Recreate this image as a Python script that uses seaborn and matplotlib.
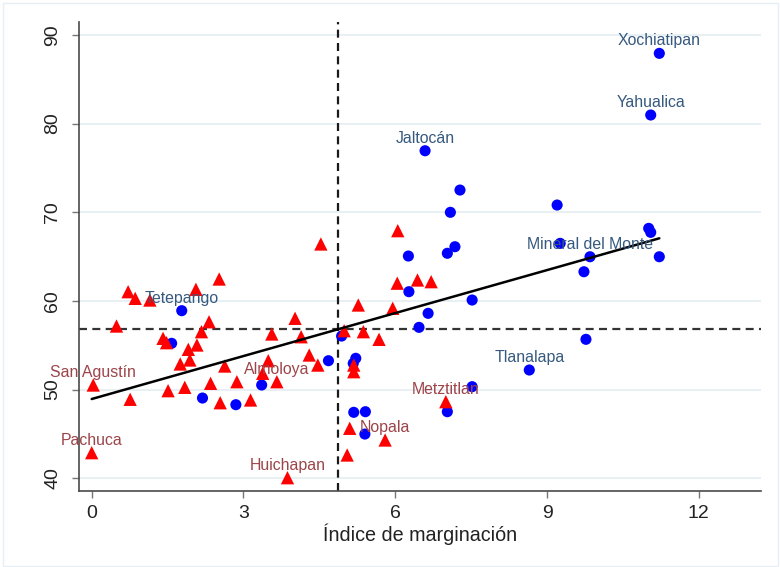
import numpy as np
import pandas as pd
import matplotlib
matplotlib.use("Agg")
import matplotlib.pyplot as plt
import seaborn as sns
from matplotlib.patches import Rectangle

sns.set_theme(style="white")
plt.rcParams["font.family"] = ["Liberation Sans", "DejaVu Sans"]

# ---- data ----
blue_x = [1.58, 1.78, 2.19, 2.85, 3.36, 4.68, 4.94, 5.22, 5.17, 5.18, 5.41, 5.40,
          6.27, 6.47, 6.65, 7.52, 7.52, 7.03, 6.59, 7.28, 7.09, 7.18, 7.03, 6.26,
          8.65, 9.77, 9.20, 9.26, 9.85, 9.73, 11.01, 11.05, 11.22, 11.05, 11.22]
blue_y = [55.22, 58.90, 49.05, 48.30, 50.52, 53.26, 56.04, 53.53, 52.96, 47.44, 47.51, 44.99,
          61.04, 57.02, 58.60, 60.10, 50.33, 47.51, 76.93, 72.50, 69.99, 66.11, 65.37, 65.06,
          52.21, 55.67, 70.81, 66.49, 64.98, 63.29, 68.18, 67.73, 64.98, 80.96, 87.91]
blue_names = ["", "Tetepango", "", "", "", "", "", "", "", "", "", "",
              "", "", "", "", "", "", "Jaltocán", "", "", "", "", "",
              "Tlanalapa", "", "", "", "Mineral del Monte", "", "", "", "", "Yahualica", "Xochiatipan"]

red_x = [0.72, 0.86, 1.15, 0.49, 1.41, 1.48, 2.06, 2.32, 2.17, 2.08, 1.91, 1.94, 1.75, 2.63,
         0.03, 0.76, 1.51, 1.84, 2.35, 2.87, 2.54, 3.14, 0.00, 2.52, 6.04, 6.44, 6.71,
         5.27, 5.95, 4.02, 3.56, 4.14, 4.99, 5.37, 5.68, 3.49, 4.30, 4.47, 3.38, 3.66,
         5.18, 5.18, 5.10, 5.05, 5.80, 7.00, 3.87, 6.05, 4.53]
red_y = [61.04, 60.29, 60.10, 57.17, 55.78, 55.29, 61.31, 57.65, 56.53, 55.03, 54.54, 53.34, 52.89, 52.66,
         50.52, 48.91, 49.88, 50.26, 50.71, 50.89, 48.52, 48.83, 42.89, 62.47, 62.00, 62.36, 62.17,
         59.54, 59.17, 58.04, 56.27, 55.96, 56.64, 56.53, 55.67, 53.26, 53.90, 52.77, 51.84, 50.89,
         52.77, 52.02, 45.64, 42.63, 44.32, 48.64, 40.07, 67.92, 66.42]
red_names = ["", "", "", "", "", "", "", "", "", "", "", "", "", "",
             "San Agustín", "", "", "", "", "", "", "", "Pachuca", "", "", "", "",
             "", "", "", "", "", "", "", "", "", "", "", "", "Almoloya",
             "", "", "", "", "Nopala", "Metztitlan", "Huichapan", "", ""]

fit_intercept = 48.94
fit_slope = 1.615
mean_x = 4.86
mean_y = 56.80

x_ticks = [0, 3, 6, 9, 12]
y_ticks = [40, 50, 60, 70, 80, 90]
x_label = "Índice de marginación"

df_blue = pd.DataFrame({"x": blue_x, "y": blue_y, "name": blue_names})
df_red = pd.DataFrame({"x": red_x, "y": red_y, "name": red_names})

# ---- figure ----
W, H = 780, 567
fig = plt.figure(figsize=(W / 100, H / 100), dpi=100)
fig.patch.set_facecolor("white")
fig.add_artist(Rectangle((2.5 / W, 1.5 / H), 775 / W, 563 / H, transform=fig.transFigure,
                         fill=False, edgecolor="#e8eff4", lw=1.0))

left, right, top, bottom = 79.3, 761.0, 21.7, 491.0
ax = fig.add_axes([left / W, 1 - bottom / H, (right - left) / W, (bottom - top) / H])
ax.set_facecolor("white")

sns.scatterplot(data=df_blue, x="x", y="y", color="#0000ff", marker="o", s=64,
                edgecolor="none", linewidth=0, ax=ax, zorder=3)
sns.scatterplot(data=df_red, x="x", y="y", color="#ff0000", marker="^", s=92,
                edgecolor="none", linewidth=0, ax=ax, zorder=4)

all_x = np.array(blue_x + red_x)
xl = np.array([all_x.min(), all_x.max()])
ax.plot(xl, fit_intercept + fit_slope * xl, color="black", lw=1.8, zorder=5)

ax.axvline(mean_x, color="#1a1a1a", lw=1.6, ls=(0, (3.6, 2.4)), zorder=2)
ax.axhline(mean_y, color="#333333", lw=1.6, ls=(0, (3.6, 2.4)), zorder=2)

for df, col in ((df_blue, "#36597f"), (df_red, "#9c4449")):
    for _, r in df[df["name"] != ""].iterrows():
        ax.annotate(r["name"], (r["x"], r["y"]), xytext=(0, 12.5), textcoords="offset pixels",
                    ha="center", va="center", fontsize=11.4, color=col, zorder=6)

ax.set_xlim(-0.245, 13.23)
ax.set_ylim(38.57, 91.48)
ax.set_xticks(x_ticks)
ax.set_yticks(y_ticks)
ax.yaxis.grid(True, color="#e4edf2", lw=1.2)
ax.xaxis.grid(False)
ax.set_axisbelow(True)

for s in ("top", "right"):
    ax.spines[s].set_visible(False)
for s in ("left", "bottom"):
    ax.spines[s].set_color("#4a4a4a")
    ax.spines[s].set_linewidth(1.2)

ax.tick_params(axis="both", which="both", bottom=True, left=True, direction="out",
               length=5, width=1, color="#777777", labelsize=14, labelcolor="#222222")
ax.tick_params(axis="x", pad=5)
ax.tick_params(axis="y", pad=8)
for lab in ax.get_yticklabels():
    lab.set_rotation(90)
    lab.set_va("center")

ax.set_xlabel(x_label, fontsize=14.2, color="#222222", labelpad=1)
ax.set_ylabel("")

fig.savefig("out.png", dpi=100, facecolor="white")
